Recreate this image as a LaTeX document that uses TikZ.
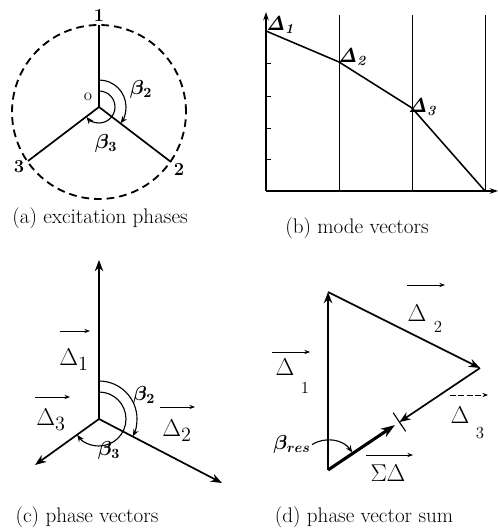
\documentclass[tikz,border=0pt]{standalone}
\usepackage{amsmath}
\usetikzlibrary{arrows.meta,calc}
\tikzset{
  axisline/.style={line width=1.2pt},
  gridline/.style={line width=0.6pt},
  vecline/.style={line width=1.2pt,-{Stealth[length=8pt,width=6pt]}},
  sumline/.style={line width=2.2pt,-{Stealth[length=10pt,width=7pt]}},
  anglearc/.style={line width=0.8pt,-{Stealth[length=5pt,width=4pt]}},
  overarrow/.style={line width=0.6pt,-{Stealth[length=4pt,width=3pt]}},
  caption/.style={font=\fontsize{15}{18}\selectfont,inner sep=0pt},
  lbl/.style={font=\fontsize{19}{22}\selectfont,inner sep=1pt},
  sublbl/.style={font=\fontsize{12}{14}\selectfont,inner sep=0pt},
  numlbl/.style={font=\fontsize{13}{15}\selectfont\bfseries,inner sep=1pt},
  anglbl/.style={font=\fontsize{14}{16}\selectfont\boldmath,inner sep=1pt},
}

\begin{document}
\begin{tikzpicture}[x=0.025cm,y=0.025cm]
\path[use as bounding box] (0,0) rectangle (498,531);

% (a) excitation phases
\coordinate (oa) at (99,424);
\coordinate (pa1) at (99,506);
\coordinate (pa2) at (171,369);
\coordinate (pa3) at (28,370);
\draw[line width=1.3pt,dash pattern=on 5.5pt off 3.5pt] (99,419) circle (87);
\draw[axisline] (oa) -- (pa1);
\draw[axisline] (oa) -- (pa2);
\draw[axisline] (oa) -- (pa3);
\draw[anglearc] ($(oa)+(90:27)$) arc (90:-37:27);
\draw[anglearc] ($(oa)+(90:16)$) arc (90:-141:16);
\node[numlbl] (na1) at (99,515) {1};
\node[numlbl] (na2) at (179,361) {2};
\node[numlbl] (na3) at (19,364) {3};
\node[font=\fontsize{12}{14}\selectfont,inner sep=0pt] (no) at (88,434) {o};
\node[anglbl] (ba2) at (141,442) {$\beta_2$};
\node[anglbl] (ba3) at (106,388) {$\beta_3$};
\node[caption] (capa) at (100,313) {(a) excitation phases};

% (b) mode vectors
\coordinate (ob) at (266,340);
\coordinate (bt) at (266,519);
\coordinate (br) at (498,340);
\draw[axisline,-{Stealth[length=6pt,width=4pt]}] (ob) -- (bt);
\draw[axisline,-{Stealth[length=6pt,width=4pt]}] (ob) -- (br);
\foreach \x in {339,412,485}
  \draw[gridline] (\x,340) -- (\x,516);
\foreach \y in {468,435,403,372}
  \draw[gridline] (266,\y) -- ++(5,0);
\coordinate (m1) at (266,500);
\coordinate (m2) at (339,469);
\coordinate (m3) at (412,423);
\coordinate (m4) at (485,340);
\draw[line width=1.1pt] (m1) -- (m2) -- (m3) -- (m4);
\node[anglbl] (dm1) at (281,506) {$\mathit{\Delta}_{\mathit{1}}$};
\node[anglbl] (dm2) at (353,474) {$\mathit{\Delta}_{\mathit{2}}$};
\node[anglbl] (dm3) at (423,424) {$\mathit{\Delta}_{\mathit{3}}$};
\node[caption] (capb) at (357,303) {(b) mode vectors};

% (c) phase vectors
\coordinate (oc) at (99,112);
\coordinate (c1) at (99,271);
\coordinate (c2) at (222,48);
\coordinate (c3) at (35,66);
\draw[vecline] (oc) -- (c1);
\draw[vecline] (oc) -- (c2);
\draw[vecline] (oc) -- (c3);
\draw[anglearc] ($(oc)+(90:38)$) arc (90:-27:38);
\draw[anglearc] ($(oc)+(90:27)$) arc (90:-144:27);
\node[lbl] (vc1) at (74,171) {$\Delta_1$};
\node[lbl] (vc3) at (51,111) {$\Delta_3$};
\node[lbl] (vc2) at (177,100) {$\Delta_2$};
\draw[overarrow] ($(vc1)+(-14,29)$) -- ($(vc1)+(16,29)$);
\draw[overarrow] ($(vc3)+(-16,23)$) -- ($(vc3)+(19,23)$);
\draw[overarrow] ($(vc2)+(-17,24)$) -- ($(vc2)+(18,24)$);
\node[anglbl] (bc2) at (144,136) {$\beta_2$};
\node[anglbl] (bc3) at (109,81) {$\beta_3$};
\node[caption] (capc) at (87,14) {(c) phase vectors};

% (d) phase vector sum
\coordinate (da) at (328,61);
\coordinate (db) at (328,239);
\coordinate (dc) at (480,163);
\coordinate (dx) at ($(da)!0.47!(dc)$);
\draw[vecline] (da) -- (db);
\draw[vecline] (db) -- (dc);
\draw[vecline] (dc) -- (dx);
\draw[sumline] (da) -- ($(da)!0.44!(dc)$);
\draw[line width=0.8pt] ($(dx)!8pt!90:(dc)$) -- ($(dx)!8pt!-90:(dc)$);
\draw[anglearc] ($(da)+(122:30)$) arc (122:36:30);
\node[lbl] (vd1) at (285,164) {$\Delta$};
\node[sublbl] (sd1) at (305,143) {1};
\node[lbl] (vd2) at (417,218) {$\Delta$};
\node[sublbl] (sd2) at (438,204) {2};
\node[lbl] (vd3) at (460,116) {$\Delta$};
\node[sublbl] (sd3) at (480,98) {3};
\node[lbl] (vds) at (388,58) {$\Sigma\Delta$};
\draw[overarrow] ($(vd1)+(-13,15)$) -- ($(vd1)+(25,15)$);
\draw[overarrow] ($(vd2)+(-10,28)$) -- ($(vd2)+(28,28)$);
\draw[overarrow,dash pattern=on 4pt off 2pt] ($(vd3)+(-10,20)$) -- ($(vd3)+(28,20)$);
\draw[overarrow] ($(vds)+(-22,18)$) -- ($(vds)+(25,18)$);
\node[anglbl] (bres) at (292,87) {$\beta_{res}$};
\node[caption] (capd) at (364,14) {(d) phase vector sum};
\end{tikzpicture}
\end{document}
